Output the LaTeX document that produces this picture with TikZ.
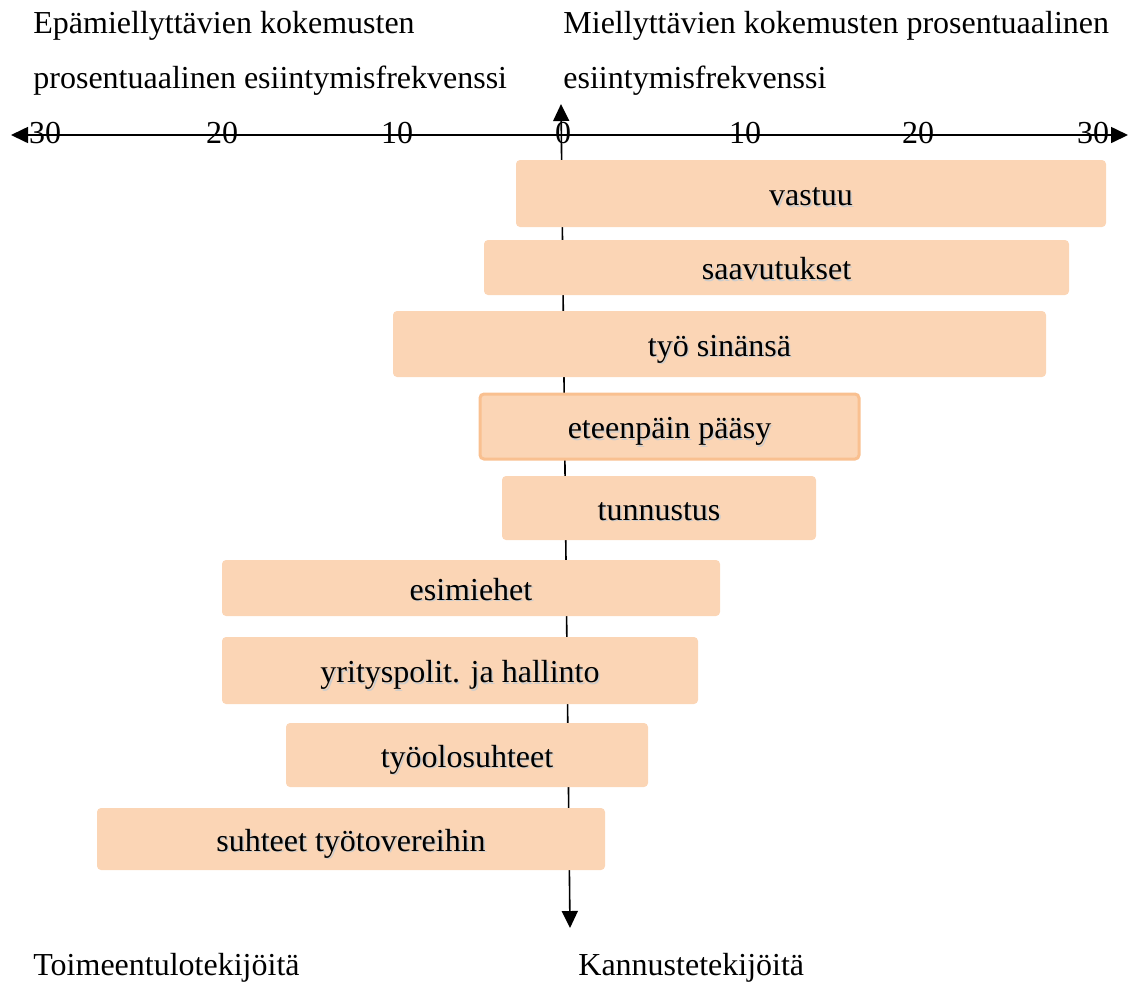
\documentclass[tikz,border=0pt]{standalone}
\usepackage{fontspec}
\setmainfont{Liberation Serif}
\usetikzlibrary{arrows.meta}
\definecolor{barfill}{HTML}{FBD5B5}
\definecolor{baredge}{HTML}{F9C090}
% label text with a soft drop shadow
\newcommand\shadowtext[1]{\makebox[0pt][l]{\hspace{0.8pt}\raisebox{-0.8pt}{\color{black!20}#1}}#1}
\tikzset{axtip/.tip={Triangle[length=8.5pt,width=8pt]}}
\begin{document}
\begin{tikzpicture}[x=0.5pt,y=-0.5pt,
  font=\fontsize{16}{19}\selectfont,
  axis/.style={line width=0.8pt, black},
  bar/.style={fill=barfill, rounded corners=2pt, inner sep=0pt, text height=12pt, text depth=0pt},
  hibar/.style={bar, draw=baredge, line width=1.5pt},
  tick/.style={anchor=base, inner sep=0pt},
  caption/.style={anchor=base west, inner sep=0pt}]
\useasboundingbox (0,0) rectangle (1133,981);

% axes
\coordinate (hl) at (11,135);
\coordinate (hr) at (1128,135);
\coordinate (vt) at (561,104);
\coordinate (vb) at (570,928);
\draw[axis, axtip-axtip] (hl) -- (hr);
\draw[axis, axtip-axtip] (vb) -- (vt);

% scale numbers
\foreach \x/\t [count=\i] in {45/30, 222/20, 397/10, 563/0, 745/10, 918/20, 1093/30}
  \node[tick] (t\i) at (\x,143) {\t};

% bars (percentage ranges)
\node[bar, minimum width=295pt, minimum height=33.5pt] (b1) at (811,193.5) {\shadowtext{vastuu}};
\node[bar, minimum width=292.5pt, minimum height=27.5pt] (b2) at (776.5,267.5) {\shadowtext{saavutukset}};
\node[bar, minimum width=326.5pt, minimum height=33pt] (b3) at (719.5,344) {\shadowtext{työ sinänsä}};
\node[hibar, minimum width=189.5pt, minimum height=32.5pt] (b4) at (669.5,426.5) {\shadowtext{eteenpäin pääsy}};
\node[bar, minimum width=157pt, minimum height=32pt] (b5) at (659,508) {\shadowtext{tunnustus}};
\node[bar, minimum width=249pt, minimum height=28pt] (b6) at (471,588) {\shadowtext{esimiehet}};
\node[bar, minimum width=238pt, minimum height=33.5pt] (b7) at (460,670.5) {\shadowtext{yrityspolit. ja hallinto}};
\node[bar, minimum width=181pt, minimum height=32pt] (b8) at (467,755) {\shadowtext{työolosuhteet}};
\node[bar, minimum width=254pt, minimum height=31pt] (b9) at (351,839) {\shadowtext{suhteet työtovereihin}};

% headings
\node[caption] (hd1) at (33,33) {Epämiellyttävien kokemusten};
\node[caption] (hd2) at (33,88) {prosentuaalinen esiintymisfrekvenssi};
\node[caption] (hd3) at (563,33) {Miellyttävien kokemusten prosentuaalinen};
\node[caption] (hd4) at (563,88) {esiintymisfrekvenssi};
\node[caption] (ft1) at (33,975) {Toimeentulotekijöitä};
\node[caption] (ft2) at (578,975) {Kannustetekijöitä};
\end{tikzpicture}
\end{document}
